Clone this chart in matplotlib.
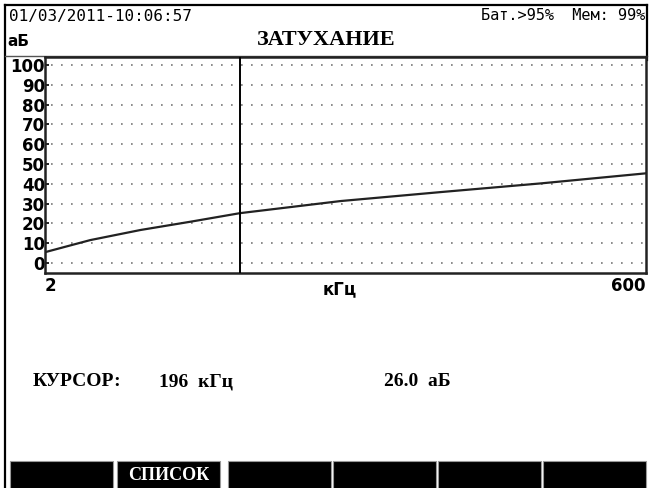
import matplotlib
matplotlib.use("Agg")
import matplotlib.pyplot as plt
from matplotlib.patches import Rectangle

# attenuation curve
freq_khz = [2, 47, 97, 147, 196, 296, 395, 495, 600]
atten_db = [5.5, 11.6, 16.7, 20.9, 25.2, 31.3, 35.8, 40.2, 45.3]
y_ticks = [0, 10, 20, 30, 40, 50, 60, 70, 80, 90, 100]
cursor_khz = 196
cursor_db = 26.0
buttons = ["", "СПИСОК", "", "", "", ""]

W, H = 649, 488
fig = plt.figure(figsize=(W / 100, H / 100), dpi=100)
fig.patch.set_facecolor("white")

# overlay in pixel coords for the "screen" decorations
bg = fig.add_axes([0, 0, 1, 1])
bg.set_xlim(0, W)
bg.set_ylim(H, 0)
bg.axis("off")

mono = ["DejaVu Sans Mono"]
bold_num = ["DejaVu Sans"]
serif = ["Liberation Serif", "DejaVu Serif"]

# frame of the screen
bg.plot([5, 5], [5, H], c="black", lw=1.6)
bg.plot([5, 647], [5, 5], c="black", lw=1.6)
bg.plot([647, 647], [5, 60], c="black", lw=1.6)
bg.plot([5, 647], [55.5, 55.5], c="#555555", lw=1.0)

bg.text(9, 16, "01/03/2011-10:06:57", family=mono, fontsize=11.5, va="center", ha="left")
bg.text(645, 16, "Бат.>95%  Мем: 99%", family=mono, fontsize=11, va="center", ha="right")
bg.text(7, 42, "аБ", family=bold_num, fontsize=11, weight="bold", va="center", ha="left")
bg.text(326, 40, "ЗАТУХАНИЕ", family=serif, fontsize=16, weight="bold",
        va="center", ha="center")

# main plot
ax = fig.add_axes([45 / W, (H - 273) / H, 601 / W, 216 / H])
ax.set_xlim(2, 600)
ax.set_ylim(-5, 104)
for y in y_ticks:
    ax.axhline(y, xmin=0.01, xmax=0.995, c="#777777", lw=1.2, ls=(0, (1, 5)), zorder=1)
ax.plot(freq_khz, atten_db, c="#222222", lw=1.6, zorder=3)
ax.axvline(cursor_khz, c="black", lw=1.4, zorder=4)

for s in ax.spines.values():
    s.set_linewidth(1.8)
    s.set_color("#222222")
ax.set_xticks([])
ax.set_yticks(y_ticks)
ax.set_yticklabels([str(v) for v in y_ticks], family=bold_num, fontsize=12, weight="bold")
ax.tick_params(axis="y", length=3, width=1.2, direction="in", pad=0)

ax.text(2, -7, "2", family=bold_num, fontsize=12, weight="bold", ha="left", va="top")
ax.annotate("кГц", xy=(0.49, 0), xycoords="axes fraction", xytext=(0, -5),
            textcoords="offset points", family=bold_num, fontsize=12, weight="bold",
            ha="center", va="top")
ax.text(600, -7, "600", family=bold_num, fontsize=12, weight="bold", ha="right", va="top")

# cursor readout
bg.text(33, 382, "КУРСОР:", family=serif, fontsize=14, weight="bold", va="center")
bg.text(159, 382, f"{cursor_khz}  кГц", family=serif, fontsize=14, weight="bold", va="center")
bg.text(384, 382, f"{cursor_db:.1f}  аБ", family=serif, fontsize=14, weight="bold", va="center")

# soft keys
bx = [10, 117, 228, 333, 438, 543]
bw = 103
for x0, lab in zip(bx, buttons):
    bg.add_patch(Rectangle((x0, 461), bw, 30, fc="black", ec="#999999", lw=0.8))
    if lab:
        bg.text(x0 + bw / 2, 475, lab, family=serif, fontsize=13, weight="bold",
                color="white", ha="center", va="center")

fig.savefig("out.png", dpi=100)
